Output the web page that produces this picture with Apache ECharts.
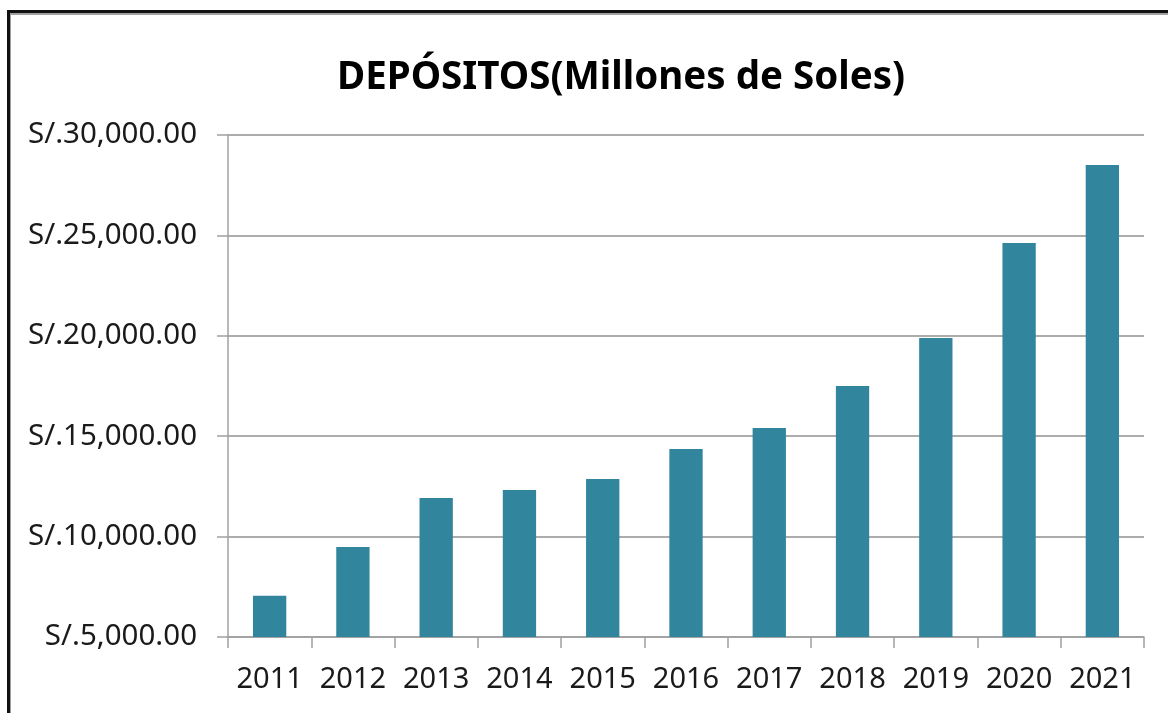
<!DOCTYPE html>
<html>
<head>
<meta charset="utf-8">
<script src="https://cdn.jsdelivr.net/npm/echarts@6/dist/echarts.min.js"></script>
<style>
  html, body { margin: 0; padding: 0; background: #fff; }
  #chart { width: 1168px; height: 713px; }
  .frame {
    position: absolute; left: 7px; top: 10px; right: -10px; bottom: -10px;
    border-top: 3px solid #111; border-left: 3px solid #111;
    pointer-events: none;
  }
  .frame-inner {
    position: absolute; left: 0; top: 0; right: 0; bottom: 0;
    border-top: 2px solid #a0a0a0; border-left: 1px solid #a0a0a0;
  }
</style>
</head>
<body>
<div id="chart"></div>
<div class="frame"><div class="frame-inner"></div></div>
<script>
const years = ['2011', '2012', '2013', '2014', '2015', '2016', '2017', '2018', '2019', '2020', '2021'];
const depositos = [7050, 9480, 11920, 12320, 12870, 14360, 15410, 17500, 19890, 24620, 28510];
const yMin = 5000;
const yMax = 30000;
const yStep = 5000;

const textFont = 'Noto Sans';

function formatSoles(v) {
  return 'S/.' + v.toLocaleString('en-US', { minimumFractionDigits: 2, maximumFractionDigits: 2 });
}

const chart = echarts.init(document.getElementById('chart'));
chart.setOption({
  animation: false,
  title: {
    text: 'DEPÓSITOS(Millones de Soles)',
    left: 332,
    top: 54,
    textStyle: {
      fontFamily: textFont,
      fontWeight: 'bold',
      fontSize: 38.5,
      color: '#000'
    }
  },
  grid: { left: 228, right: 24, top: 135, bottom: 76 },
  xAxis: {
    type: 'category',
    data: years,
    axisLine: { lineStyle: { color: '#a0a0a0', width: 1.5 } },
    axisTick: { show: true, length: 11, lineStyle: { color: '#a0a0a0', width: 1.5 } },
    axisLabel: {
      interval: 0,
      hideOverlap: false,
      margin: 28,
      fontFamily: textFont,
      fontSize: 29,
      color: '#1a1a1a'
    }
  },
  yAxis: {
    type: 'value',
    min: yMin,
    max: yMax,
    interval: yStep,
    axisLine: { show: true, lineStyle: { color: '#a0a0a0', width: 1.5 } },
    axisTick: { show: true, length: 11, lineStyle: { color: '#a0a0a0', width: 1.5 } },
    splitLine: { lineStyle: { color: '#909090', width: 1.5 } },
    axisLabel: {
      margin: 31,
      fontFamily: textFont,
      fontSize: 29.5,
      color: '#1a1a1a',
      formatter: formatSoles
    }
  },
  series: [
    {
      name: 'Depósitos',
      type: 'bar',
      data: depositos,
      barWidth: '40%',
      itemStyle: { color: '#31859c' }
    }
  ]
});
</script>
</body>
</html>
